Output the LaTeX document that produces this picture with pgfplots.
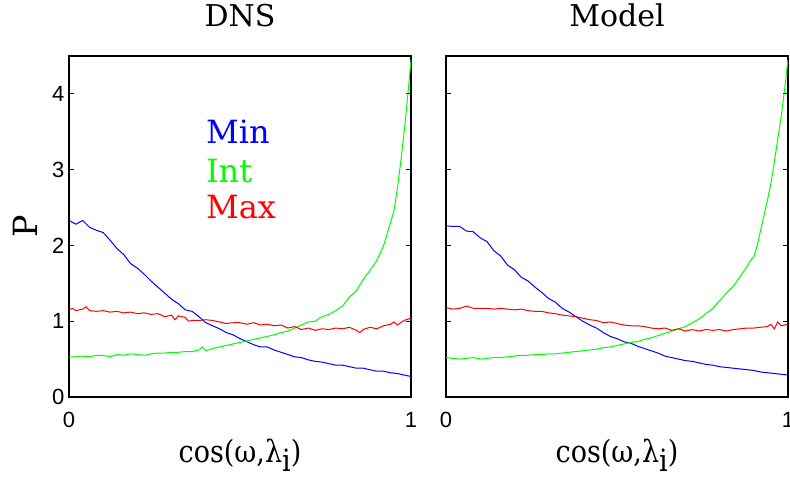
\documentclass[border=0pt]{standalone}
\usepackage{fontspec}
\setmainfont{DejaVu Serif}
\setsansfont{Liberation Sans}
\usepackage{pgfplots}
\usepackage{pgfplotstable}
\pgfplotsset{compat=1.18}

\pgfplotstableread{
x y
0.00 2.33
0.02 2.28
0.04 2.33
0.06 2.24
0.08 2.20
0.10 2.17
0.12 2.07
0.14 1.96
0.16 1.88
0.18 1.76
0.20 1.70
0.22 1.62
0.24 1.53
0.26 1.45
0.28 1.37
0.30 1.29
0.32 1.23
0.34 1.15
0.36 1.13
0.38 1.06
0.40 0.98
0.42 0.94
0.44 0.90
0.46 0.85
0.48 0.82
0.50 0.77
0.52 0.73
0.54 0.69
0.56 0.66
0.58 0.66
0.60 0.62
0.62 0.59
0.64 0.56
0.66 0.53
0.68 0.52
0.70 0.49
0.72 0.47
0.74 0.46
0.76 0.44
0.78 0.42
0.80 0.42
0.82 0.40
0.84 0.38
0.86 0.38
0.88 0.36
0.90 0.34
0.92 0.34
0.94 0.32
0.96 0.31
0.98 0.29
1.00 0.27
}\dnsmin

\pgfplotstableread{
x y
0.00 0.53
0.02 0.53
0.04 0.54
0.06 0.53
0.08 0.55
0.10 0.55
0.12 0.53
0.14 0.56
0.16 0.55
0.18 0.57
0.20 0.56
0.22 0.55
0.24 0.57
0.26 0.58
0.28 0.58
0.30 0.59
0.32 0.59
0.34 0.60
0.36 0.60
0.38 0.62
0.39 0.66
0.40 0.61
0.42 0.64
0.44 0.66
0.46 0.68
0.48 0.70
0.50 0.72
0.52 0.74
0.54 0.76
0.56 0.78
0.58 0.80
0.60 0.82
0.62 0.85
0.64 0.87
0.66 0.91
0.68 0.95
0.70 0.99
0.72 1.00
0.74 1.06
0.76 1.09
0.78 1.14
0.80 1.20
0.82 1.32
0.84 1.40
0.86 1.55
0.88 1.67
0.90 1.80
0.92 2.00
0.94 2.30
0.95 2.45
0.96 2.75
0.97 3.10
0.98 3.50
0.99 3.95
1.00 4.45
}\dnsint

\pgfplotstableread{
x y
0.00 1.15
0.01 1.17
0.02 1.14
0.04 1.16
0.05 1.19
0.06 1.14
0.08 1.13
0.10 1.14
0.12 1.12
0.14 1.13
0.16 1.11
0.18 1.12
0.20 1.10
0.22 1.11
0.24 1.09
0.26 1.10
0.28 1.06
0.30 1.08
0.31 1.02
0.32 1.07
0.34 1.05
0.35 1.00
0.36 1.01
0.38 1.01
0.40 1.02
0.42 1.01
0.44 0.99
0.46 0.97
0.48 0.98
0.50 0.98
0.52 0.96
0.54 0.98
0.56 0.95
0.58 0.96
0.60 0.94
0.62 0.95
0.64 0.91
0.66 0.93
0.68 0.89
0.70 0.91
0.72 0.88
0.74 0.90
0.76 0.89
0.78 0.91
0.80 0.90
0.82 0.92
0.84 0.88
0.85 0.85
0.86 0.89
0.88 0.92
0.90 0.90
0.92 0.94
0.94 0.96
0.95 0.99
0.96 0.95
0.98 1.01
1.00 1.04
}\dnsmax

\pgfplotstableread{
x y
0.00 2.26
0.02 2.25
0.04 2.25
0.06 2.19
0.08 2.18
0.10 2.10
0.12 2.05
0.14 1.93
0.16 1.86
0.18 1.74
0.20 1.68
0.22 1.58
0.24 1.53
0.26 1.45
0.28 1.38
0.30 1.30
0.32 1.25
0.34 1.17
0.36 1.12
0.38 1.06
0.40 1.00
0.42 0.95
0.44 0.91
0.46 0.85
0.48 0.80
0.50 0.77
0.52 0.73
0.54 0.71
0.56 0.67
0.58 0.64
0.60 0.61
0.62 0.58
0.64 0.54
0.66 0.52
0.68 0.50
0.70 0.48
0.72 0.47
0.74 0.45
0.76 0.43
0.78 0.42
0.80 0.40
0.82 0.39
0.84 0.38
0.86 0.37
0.88 0.36
0.90 0.35
0.92 0.33
0.94 0.32
0.96 0.31
0.98 0.30
1.00 0.29
}\modmin

\pgfplotstableread{
x y
0.00 0.52
0.02 0.51
0.04 0.50
0.06 0.51
0.08 0.52
0.10 0.50
0.12 0.51
0.14 0.52
0.16 0.52
0.18 0.53
0.20 0.54
0.22 0.55
0.24 0.55
0.26 0.56
0.28 0.56
0.30 0.57
0.32 0.57
0.34 0.58
0.36 0.59
0.38 0.60
0.40 0.61
0.42 0.62
0.44 0.63
0.46 0.65
0.48 0.66
0.50 0.68
0.52 0.70
0.54 0.72
0.56 0.73
0.58 0.76
0.60 0.78
0.62 0.81
0.64 0.84
0.66 0.87
0.68 0.90
0.70 0.93
0.72 0.98
0.74 1.03
0.76 1.10
0.78 1.17
0.80 1.27
0.82 1.37
0.84 1.46
0.86 1.59
0.88 1.72
0.89 1.80
0.90 1.85
0.91 2.00
0.92 2.20
0.94 2.60
0.95 2.82
0.96 3.10
0.97 3.40
0.98 3.70
0.99 4.05
1.00 4.45
}\modint

\pgfplotstableread{
x y
0.00 1.18
0.02 1.16
0.04 1.17
0.06 1.20
0.08 1.17
0.10 1.17
0.12 1.17
0.14 1.16
0.16 1.17
0.18 1.16
0.20 1.15
0.22 1.16
0.24 1.14
0.26 1.13
0.28 1.13
0.30 1.11
0.32 1.10
0.34 1.08
0.36 1.07
0.38 1.06
0.40 1.04
0.42 1.02
0.44 1.01
0.46 0.98
0.48 0.99
0.50 0.97
0.52 0.95
0.54 0.94
0.56 0.94
0.58 0.93
0.60 0.91
0.62 0.90
0.64 0.91
0.66 0.88
0.68 0.90
0.70 0.87
0.72 0.89
0.74 0.87
0.76 0.89
0.78 0.88
0.80 0.89
0.82 0.87
0.84 0.89
0.86 0.90
0.88 0.91
0.90 0.91
0.92 0.92
0.94 0.93
0.95 0.96
0.96 0.90
0.97 0.99
0.98 0.94
1.00 0.96
}\modmax

\pgfplotsset{
  panel/.style={
    scale only axis,
    width=256.5pt, height=255.75pt,
    xmin=0, xmax=1, ymin=0, ymax=4.5,
    xtick={0,1}, ytick={0,1,2,3,4},
    tick align=inside,
    major tick length=4pt,
    axis line style={line width=0.9pt},
    tick style={line width=0.6pt, black},
    every axis plot/.append style={line width=0.75pt},
    tick label style={font=\sffamily\fontsize{16.5}{17}\selectfont},
    /pgf/number format/assume math mode=true,
    xticklabel style={yshift=-8pt},
    title style={at={(0.5,1)}, anchor=base, yshift=15.75pt, font=\fontsize{22.5}{24}\selectfont},
    xlabel style={at={(0.5,0)}, anchor=base, yshift=-49pt, font=\fontsize{23}{24}\selectfont},
    xlabel={\scalebox{0.88}[1]{cos(ω,λ\raisebox{-0.55ex}{i})}},
  }
}

\begin{document}
\begin{tikzpicture}
\begin{axis}[panel, at={(0,0)}, anchor=south west, title={DNS},
  ylabel={P},
  ylabel style={at={(0,0.5)}, anchor=center, yshift=33pt, font=\fontsize{25}{26}\selectfont}]
\addplot[blue] table[x=x,y=y] {\dnsmin};
\addplot[green] table[x=x,y=y] {\dnsint};
\addplot[red] table[x=x,y=y] {\dnsmax};
\node[anchor=base west, text=blue, font=\fontsize{24}{24}\selectfont, inner sep=0pt] at (axis cs:0.40,3.35) {Min};
\node[anchor=base west, text=green, font=\fontsize{24}{24}\selectfont, inner sep=0pt] at (axis cs:0.40,2.83) {Int};
\node[anchor=base west, text=red, font=\fontsize{24}{24}\selectfont, inner sep=0pt] at (axis cs:0.40,2.35) {Max};
\end{axis}
\begin{axis}[panel, at={(282.75pt,0)}, anchor=south west, title={Model},
  yticklabels={}]
\addplot[blue] table[x=x,y=y] {\modmin};
\addplot[green] table[x=x,y=y] {\modint};
\addplot[red] table[x=x,y=y] {\modmax};
\end{axis}
\pgfresetboundingbox
\path (-51.75pt,-60.75pt) rectangle (540.75pt,297.75pt);
\end{tikzpicture}
\end{document}
